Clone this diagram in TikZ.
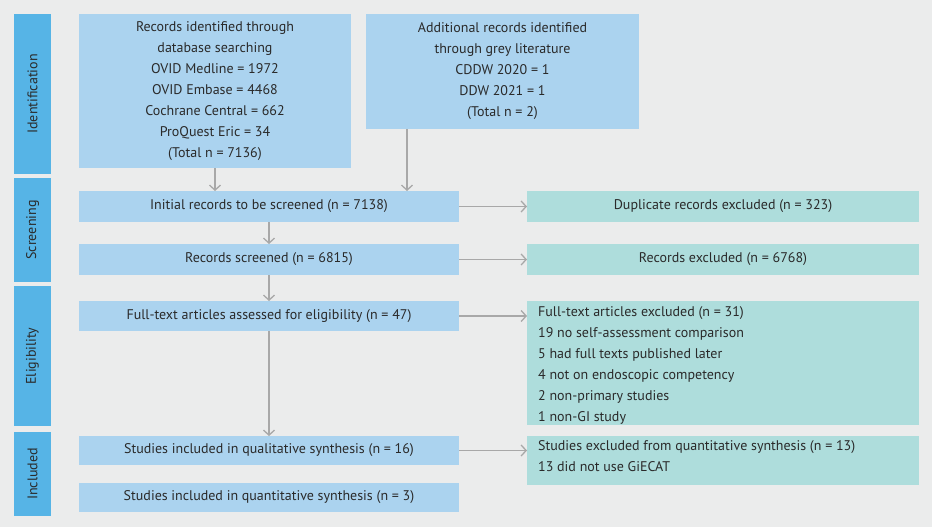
\documentclass[tikz,border=0pt]{standalone}
\usepackage{fontspec}
\setmainfont{PT Sans}
\usetikzlibrary{arrows.meta}
\definecolor{bg}{HTML}{EBECEC}
\definecolor{bx}{HTML}{ABD3EF}
\definecolor{bar}{HTML}{56B4E6}
\definecolor{tl}{HTML}{AEDDDC}
\definecolor{ar}{HTML}{A8A8A8}
\definecolor{tx}{HTML}{2A2A2A}
\begin{document}
\begin{tikzpicture}[x=1pt,y=-1pt,
 every node/.style={text=tx,font=\fontsize{14}{21}\selectfont,inner sep=0pt},
 box/.style={fill=bx},
 ex/.style={fill=tl},
 sb/.style={fill=bar},
 arr/.style={draw=ar,line width=1.3pt,-{Straight Barb[length=5pt,width=11pt,line width=1.3pt]}}]
\fill[bg] (0,0) rectangle (932,527);
\useasboundingbox (0,0) rectangle (932,527);
% side bars
\fill[sb] (14,14) rectangle (51,174); \node[rotate=90] (lid) at (32.5,94) {Identification};
\fill[sb] (14,178) rectangle (51,282); \node[rotate=90] (lsc) at (32.5,230) {Screening};
\fill[sb] (14,286) rectangle (51,426); \node[rotate=90] (lel) at (32.5,356) {Eligibility};
\fill[sb] (14,432) rectangle (51,516); \node[rotate=90] (lin) at (32.5,474) {Included};
% boxes
\fill[box] (79,14) rectangle (351,168);
\node[align=center] (rec) at (215,91) {Records identified through\\database searching\\OVID Medline = 1972\\OVID Embase = 4468\\Cochrane Central = 662\\ProQuest Eric = 34\\(Total n = 7136)};
\coordinate (recb) at (215,168);
\fill[box] (366,14) rectangle (639,129);
\node[align=center] (add) at (502.5,71.5) {Additional records identified\\through grey literature\\CDDW 2020 = 1\\DDW 2021 = 1\\(Total n = 2)};
\coordinate (addb) at (407,129);
\fill[box] (79,191) rectangle (459,222);
\node (ini) at (269,206.5) {Initial records to be screened (n = 7138)};
\coordinate (inil) at (215,191); \coordinate (inia) at (407,191);
\coordinate (inib) at (269,222); \coordinate (inir) at (459,206.5);
\fill[ex] (527,191) rectangle (919,222);
\node (dup) at (723,206.5) {Duplicate records excluded (n = 323)};
\coordinate (dupl) at (527,206.5);
\fill[box] (79,244) rectangle (459,275);
\node (scr) at (269,259.5) {Records screened (n = 6815)};
\coordinate (scrt) at (269,244); \coordinate (scrb) at (269,275); \coordinate (scrr) at (459,259.5);
\fill[ex] (527,244) rectangle (919,275);
\node (rex) at (723,259.5) {Records excluded (n = 6768)};
\coordinate (rexl) at (527,259.5);
\fill[box] (79,301) rectangle (459,331);
\node (ft) at (269,316) {Full-text articles assessed for eligibility (n = 47)};
\coordinate (ftt) at (269,301); \coordinate (ftb) at (269,331); \coordinate (ftr) at (459,316);
\fill[ex] (527,301) rectangle (919,425);
\node[align=left,anchor=north west] (ftx) at (538,306) {Full-text articles excluded (n = 31)\\19 no self-assessment comparison\\5 had full texts published later\\4 not on endoscopic competency\\2 non-primary studies\\1 non-GI study};
\coordinate (ftxl) at (527,316);
\fill[box] (79,436) rectangle (459,465);
\node (ql) at (269,450.5) {Studies included in qualitative synthesis (n = 16)};
\coordinate (qlt) at (269,436); \coordinate (qlr) at (459,450.5);
\fill[ex] (527,436) rectangle (919,485);
\node[align=left,anchor=north west] (qx) at (538,440) {Studies excluded from quantitative synthesis (n = 13)\\13 did not use GiECAT};
\coordinate (qxl) at (527,450.5);
\fill[box] (79,483) rectangle (459,512);
\node (qn) at (269,497.5) {Studies included in quantitative synthesis (n = 3)};
% arrows
\draw[arr] (recb) -- (inil);
\draw[arr] (addb) -- (inia);
\draw[arr] (inib) -- (scrt);
\draw[arr] (scrb) -- (ftt);
\draw[arr] (ftb) -- (qlt);
\draw[arr] (inir) -- (dupl);
\draw[arr] (scrr) -- (rexl);
\draw[arr] (ftr) -- (ftxl);
\draw[arr] (qlr) -- (qxl);
\end{tikzpicture}
\end{document}
